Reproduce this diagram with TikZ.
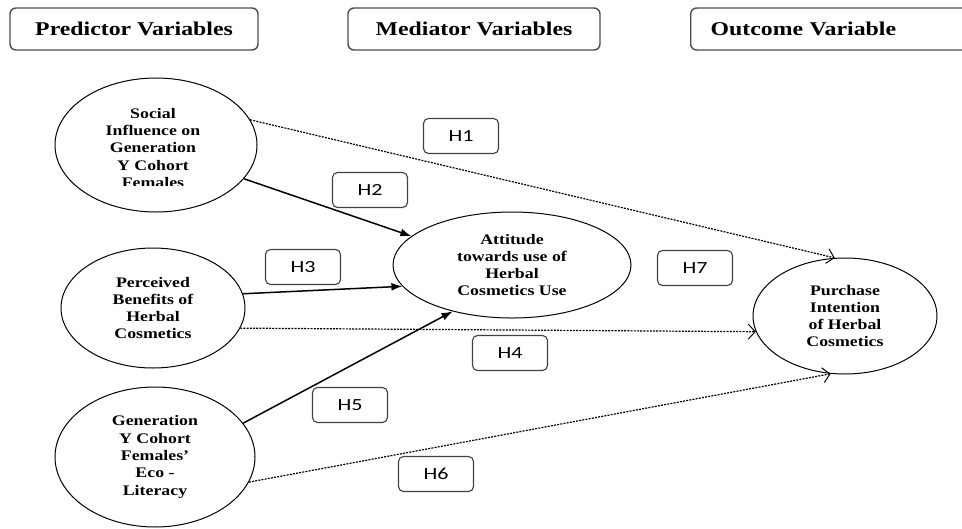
\documentclass[tikz,border=0pt]{standalone}
\usepackage{fontspec}
\setmainfont[FakeStretch=1.22]{Liberation Serif}
\newfontfamily\hypfont[FakeStretch=1.3]{Carlito}
\usetikzlibrary{shapes.geometric,arrows.meta}

\begin{document}
\begin{tikzpicture}[x=1pt,y=-1pt,
  construct/.style={ellipse, draw, line width=1pt, inner sep=0pt, align=center,
    font=\bfseries\fontsize{14.6}{17.3}\selectfont},
  conlabel/.style={align=center, inner sep=0pt, font=\bfseries\fontsize{14.6}{17.3}\selectfont},
  headbox/.style={draw=black!70, line width=1.4pt, rounded corners=6pt, minimum height=42,
    inner sep=0pt, font=\bfseries\fontsize{19.5}{22}\selectfont},
  hypbox/.style={draw=black!75, line width=1.1pt, rounded corners=5pt, minimum width=75,
    minimum height=35, inner sep=0pt, font=\hypfont\fontsize{17}{19}\selectfont},
  direct/.style={line width=1.5pt, -{Latex[length=11pt,width=8pt]}},
  indirect/.style={line width=1.2pt, dash pattern=on 2pt off 1.2pt,
    -{Straight Barb[length=7pt,width=15pt,line width=1pt]}}
]
\useasboundingbox (0,0) rectangle (962,528);
\clip (0,0) rectangle (962,528);

% column headings
\node[headbox, minimum width=248] (hpred) at (134,29) {Predictor Variables};
\node[headbox, minimum width=252] (hmed) at (474,29) {Mediator Variables};
\node[headbox, anchor=west, text width=270, inner xsep=20, align=left] (hout) at (690,29) {Outcome Variable};

% constructs
\node[construct, minimum width=202, minimum height=134] (soc) at (156,145) {};
\begin{scope}
  \clip (56,80) rectangle (256,185);
  \node[conlabel] (soctext) at (153,148) {Social\\Influence on\\Generation\\Y Cohort\\Females};
\end{scope}
\node[construct, minimum width=184, minimum height=120] (per) at (153,308)
  {Perceived\\Benefits of\\Herbal\\Cosmetics};
\node[construct, minimum width=200, minimum height=140] (gen) at (155,457)
  {Generation\\Y Cohort\\Females’\\Eco -\\Literacy};
\node[construct, minimum width=238, minimum height=106] (att) at (512,265)
  {Attitude\\towards use of\\Herbal\\Cosmetics Use};
\node[construct, minimum width=184, minimum height=116] (pur) at (845,316)
  {Purchase\\Intention\\of Herbal\\Cosmetics};

% hypothesised paths
\draw[indirect] (soc.15) -- (pur.100);
\draw[direct] (soc.-21) -- (att.164);
\draw[direct] (per.9) -- (att.191);
\draw[indirect] (per.-13) -- (pur.190);
\draw[direct] (gen.21) -- (att.218);
\draw[indirect] (gen.-15) -- (pur.256);

% hypothesis labels
\node[hypbox] (h1) at (461,136) {H1};
\node[hypbox] (h2) at (370,190) {H2};
\node[hypbox] (h3) at (303,267) {H3};
\node[hypbox] (h4) at (510,353) {H4};
\node[hypbox] (h5) at (350,405) {H5};
\node[hypbox] (h6) at (436,474) {H6};
\node[hypbox] (h7) at (695,268) {H7};
\end{tikzpicture}
\end{document}
